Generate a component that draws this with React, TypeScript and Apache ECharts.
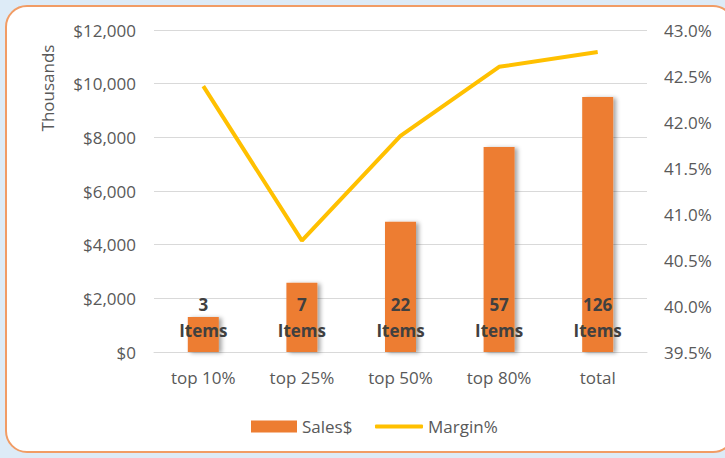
import React, { useEffect, useRef } from "react";
import * as echarts from "echarts";

const categories = ["top 10%", "top 25%", "top 50%", "top 80%", "total"];
const salesThousands = [1300, 2580, 4850, 7640, 9500];
const marginPct = [42.39, 40.71, 41.85, 42.6, 42.76];
const itemCounts = [3, 7, 22, 57, 126];

const FONT = "'Open Sans', 'Noto Sans', sans-serif";
const GRAY = "#595959";

export default function App() {
  const ref = useRef<HTMLDivElement>(null);
  useEffect(() => {
    if (!ref.current) return;
    const chart = echarts.init(ref.current, undefined, { renderer: "svg" });
    chart.setOption({
      animation: false,
      textStyle: { fontFamily: FONT },
      grid: { left: 154, right: 78, top: 30, bottom: 106 },
      legend: [
        {
          left: 246,
          top: 413,
          itemWidth: 46,
          itemHeight: 12,
          textStyle: { color: GRAY, fontSize: 17, fontFamily: FONT },
          data: [{ name: "Sales$", icon: "rect" }],
        },
        {
          left: 370,
          top: 413,
          itemWidth: 48,
          itemHeight: 4,
          textStyle: { color: GRAY, fontSize: 17, fontFamily: FONT },
          data: [{ name: "Margin%", icon: "roundRect" }],
        },
      ],
      graphic: [
        {
          type: "text",
          x: 47,
          y: 88,
          rotation: Math.PI / 2,
          style: {
            text: "Thousands",
            fill: GRAY,
            font: `17px ${FONT}`,
            textAlign: "center",
            textVerticalAlign: "middle",
          },
        },
      ],
      xAxis: {
        type: "category",
        data: categories,
        axisTick: { show: false },
        axisLine: { lineStyle: { color: "#D9D9D9", width: 1 } },
        axisLabel: { color: GRAY, fontSize: 17, margin: 17, fontFamily: FONT },
      },
      yAxis: [
        {
          type: "value",
          min: 0,
          max: 12000,
          interval: 2000,
          axisLine: { show: false },
          axisTick: { show: false },
          splitLine: { lineStyle: { color: "#D9D9D9", width: 1 } },
          axisLabel: {
            color: GRAY,
            fontSize: 17,
            margin: 18,
            fontFamily: FONT,
            formatter: (v: number) => "$" + v.toLocaleString("en-US"),
          },
        },
        {
          type: "value",
          min: 39.5,
          max: 43.0,
          interval: 0.5,
          axisLine: { show: false },
          axisTick: { show: false },
          splitLine: { show: false },
          axisLabel: {
            color: GRAY,
            fontSize: 17,
            margin: 17,
            fontFamily: FONT,
            formatter: (v: number) => v.toFixed(1) + "%",
          },
        },
      ],
      series: [
        {
          name: "Sales$",
          type: "bar",
          data: salesThousands,
          barWidth: 31,
          itemStyle: {
            color: "#ED7D31",
            shadowColor: "rgba(0,0,0,0.35)",
            shadowBlur: 4,
            shadowOffsetX: 3,
            shadowOffsetY: 1,
          },
          label: {
            show: true,
            position: "insideBottom",
            distance: 9,
            color: "#404040",
            fontWeight: "bold",
            fontSize: 17,
            lineHeight: 26,
            fontFamily: FONT,
            formatter: (p: any) => itemCounts[p.dataIndex] + "\nItems",
          },
        },
        {
          name: "Margin%",
          type: "line",
          yAxisIndex: 1,
          data: marginPct,
          symbol: "none",
          lineStyle: { color: "#FFC000", width: 4 },
          itemStyle: { color: "#FFC000" },
        },
      ],
    });
    return () => chart.dispose();
  }, []);

  return (
    <div
      style={{
        position: "fixed",
        left: 0,
        top: 0,
        width: 725,
        height: 458,
        background: "#DDEBF7",
        overflow: "hidden",
      }}
    >
      <div
        style={{
          position: "absolute",
          left: 5,
          top: 5,
          width: 730,
          height: 448,
          background: "#FFFFFF",
          border: "2px solid #F19C65",
          borderRadius: 22,
          boxSizing: "border-box",
        }}
      />
      <div
        ref={ref}
        style={{ position: "absolute", left: 0, top: 0, width: 725, height: 458 }}
      />
    </div>
  );
}
